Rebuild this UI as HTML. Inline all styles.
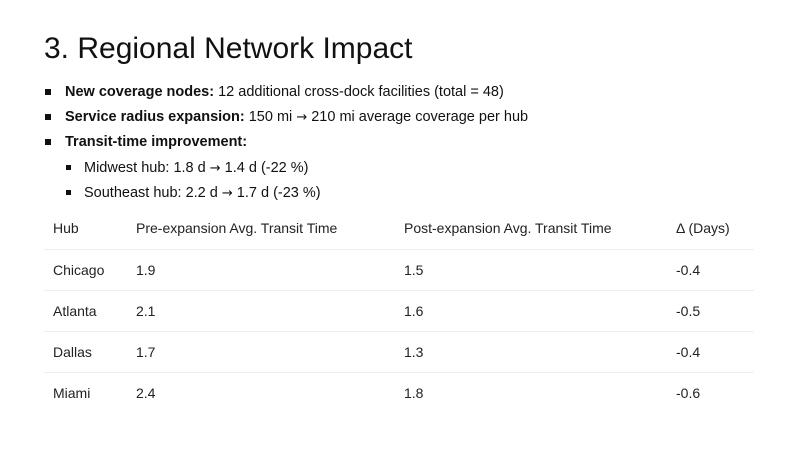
<!DOCTYPE html>
<html><head><style>
body{margin:0;width:800px;height:449px;background:#fff;position:relative;overflow:hidden;font-family:"Liberation Sans",sans-serif;color:#111}
.a{position:absolute;white-space:nowrap}
.t{left:44px;top:31px;font-size:30px;line-height:36px}
.b{font-size:14.5px;line-height:18px}
.sq{position:absolute;width:6px;height:6px;background:#111}
.c{font-size:14px;line-height:18px;color:#222}
.l{position:absolute;left:44px;width:710px;height:1px;background:#eee}
.ar{font-family:"DejaVu Sans",sans-serif;font-size:13px}
</style></head><body>
<div class="a t">3. Regional Network Impact</div>
<div class="sq" style="left:45px;top:89px"></div>
<div class="a b" style="left:65px;top:83px"><b>New coverage nodes:</b> 12 additional cross-dock facilities (total = 48)</div>
<div class="sq" style="left:45px;top:114px"></div>
<div class="a b" style="left:65px;top:108px"><b>Service radius expansion:</b> 150 mi <span class="ar">→</span> 210 mi average coverage per hub</div>
<div class="sq" style="left:45px;top:139px"></div>
<div class="a b" style="left:65px;top:133px"><b>Transit-time improvement:</b></div>
<div class="sq" style="left:66px;top:165px;width:5px;height:5px"></div>
<div class="a b" style="left:84px;top:159px">Midwest hub: 1.8 d <span class="ar">→</span> 1.4 d (-22 %)</div>
<div class="sq" style="left:66px;top:190px;width:5px;height:5px"></div>
<div class="a b" style="left:84px;top:184px">Southeast hub: 2.2 d <span class="ar">→</span> 1.7 d (-23 %)</div>

<div class="a c" style="left:53px;top:219px">Hub</div>
<div class="a c" style="left:136px;top:219px">Pre-expansion Avg. Transit Time</div>
<div class="a c" style="left:404px;top:219px">Post-expansion Avg. Transit Time</div>
<div class="a c" style="left:676px;top:219px">Δ (Days)</div>
<div class="l" style="top:249px"></div>
<div class="a c" style="left:53px;top:261px">Chicago</div><div class="a c" style="left:136px;top:261px">1.9</div><div class="a c" style="left:404px;top:261px">1.5</div><div class="a c" style="left:676px;top:261px">-0.4</div>
<div class="l" style="top:290px"></div>
<div class="a c" style="left:53px;top:302px">Atlanta</div><div class="a c" style="left:136px;top:302px">2.1</div><div class="a c" style="left:404px;top:302px">1.6</div><div class="a c" style="left:676px;top:302px">-0.5</div>
<div class="l" style="top:331px"></div>
<div class="a c" style="left:53px;top:343px">Dallas</div><div class="a c" style="left:136px;top:343px">1.7</div><div class="a c" style="left:404px;top:343px">1.3</div><div class="a c" style="left:676px;top:343px">-0.4</div>
<div class="l" style="top:372px"></div>
<div class="a c" style="left:53px;top:384px">Miami</div><div class="a c" style="left:136px;top:384px">2.4</div><div class="a c" style="left:404px;top:384px">1.8</div><div class="a c" style="left:676px;top:384px">-0.6</div>
</body></html>
